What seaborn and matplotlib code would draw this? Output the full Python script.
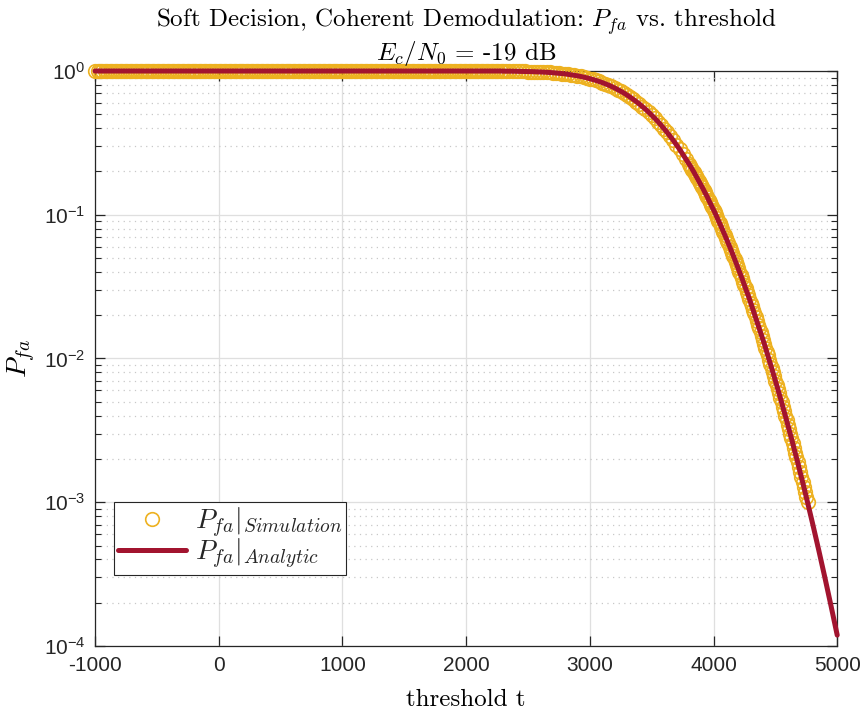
import matplotlib
matplotlib.use("Agg")
import matplotlib.pyplot as plt
from matplotlib.ticker import LogLocator, FixedLocator, NullFormatter
import seaborn as sns

# Thresholds and Pfa where the detector output is essentially always above threshold
flat_t = list(range(-1000, 2300, 20))
flat_pfa = [1.0] * len(flat_t)

# Shoulder of the curve (threshold step 25)
shoulder_t = list(range(2300, 3800, 25))
shoulder_pfa = [0.998, 0.998, 0.997, 0.997, 0.996, 0.995, 0.995, 0.993, 0.992, 0.991,
                0.989, 0.987, 0.985, 0.983, 0.98, 0.977, 0.973, 0.969, 0.965, 0.96,
                0.955, 0.948, 0.942, 0.934, 0.926, 0.917, 0.907, 0.897, 0.885, 0.873,
                0.86, 0.846, 0.831, 0.815, 0.799, 0.781, 0.763, 0.743, 0.723, 0.703,
                0.681, 0.659, 0.636, 0.613, 0.59, 0.566, 0.542, 0.518, 0.493, 0.469,
                0.445, 0.421, 0.397, 0.374, 0.351, 0.329, 0.307, 0.286, 0.265, 0.246]

# Steep tail (threshold step 10)
tail_t = list(range(3800, 4770, 10))
tail_pfa = [0.227, 0.22, 0.213, 0.206, 0.199, 0.192, 0.185, 0.179, 0.173, 0.166,
            0.16, 0.155, 0.149, 0.143, 0.138, 0.133, 0.127, 0.122, 0.117, 0.113,
            0.108, 0.104, 0.0993, 0.0951, 0.0911, 0.0871, 0.0833, 0.0797, 0.0761, 0.0727,
            0.0694, 0.0662, 0.0631, 0.0601, 0.0573, 0.0545, 0.0519, 0.0493, 0.0469, 0.0446,
            0.0423, 0.0402, 0.0381, 0.0361, 0.0342, 0.0324, 0.0307, 0.029, 0.0275, 0.026,
            0.0245, 0.0231, 0.0218, 0.0206, 0.0194, 0.0183, 0.0172, 0.0162, 0.0153, 0.0143,
            0.0135, 0.0127, 0.0119, 0.0111, 0.0105, 0.00979, 0.00917, 0.00859, 0.00804, 0.00751,
            0.00702, 0.00656, 0.00612, 0.00572, 0.00533, 0.00497, 0.00463, 0.00431, 0.00401, 0.00373,
            0.00347, 0.00322, 0.00299, 0.00278, 0.00257, 0.00239, 0.00221, 0.00205, 0.0019, 0.00175,
            0.00162, 0.0015, 0.00138, 0.00128, 0.00118, 0.00109, 0.001]

# Analytic curve continues past the last simulated point
extra_t = [4800, 4850, 4900, 4950, 5000]
extra_pfa = [0.000717, 0.000467, 0.0003, 0.00019, 0.000119]

sim_t = flat_t + shoulder_t + tail_t
sim_pfa = flat_pfa + shoulder_pfa + tail_pfa
ana_t = flat_t + shoulder_t + tail_t + extra_t
ana_pfa = flat_pfa + shoulder_pfa + tail_pfa + extra_pfa

x_ticks = [-1000, 0, 1000, 2000, 3000, 4000, 5000]

SIM_COLOR = "#EDB120"
ANA_COLOR = "#A2142F"
AX_COLOR = "#262626"

sns.set_theme(style="white")
plt.rcParams["font.family"] = ["Liberation Sans", "DejaVu Sans"]
plt.rcParams["mathtext.fontset"] = "cm"
plt.rcParams["axes.unicode_minus"] = False

fig = plt.figure(figsize=(8.64, 7.13), dpi=100)
ax = fig.add_axes([0.110, 0.094, 0.859, 0.8064])

sns.lineplot(x=sim_t, y=sim_pfa, ax=ax, linestyle="none", marker="o",
             markersize=9.8, markerfacecolor="none", markeredgecolor=SIM_COLOR,
             markeredgewidth=1.2, color=SIM_COLOR, clip_on=False, zorder=3,
             label=r"$P_{fa}|_{Simulation}$")
sns.lineplot(x=ana_t, y=ana_pfa, ax=ax, color=ANA_COLOR, linewidth=3.6,
             zorder=4, clip_on=False, label=r"$P_{fa}|_{Analytic}$")

ax.set_yscale("log")
ax.set_xlim(-1000, 5000)
ax.set_ylim(1e-4, 1)
ax.xaxis.set_major_locator(FixedLocator(x_ticks))
ax.yaxis.set_major_locator(LogLocator(base=10, numticks=10))
ax.yaxis.set_minor_locator(LogLocator(base=10, subs=range(2, 10), numticks=20))
ax.yaxis.set_minor_formatter(NullFormatter())

# Grid: solid at major ticks, dotted at the log minor ticks
ax.grid(True, which="major", axis="both", color="#DFDFDF", linewidth=0.9, linestyle="-")
ax.grid(True, which="minor", axis="y", color="#C8C8C8", linewidth=0.9, linestyle=(0, (1, 3.5)))
ax.set_axisbelow(True)

for side in ["left", "right", "top", "bottom"]:
    ax.spines[side].set_visible(True)
    ax.spines[side].set_color(AX_COLOR)
    ax.spines[side].set_linewidth(0.9)

ax.tick_params(axis="both", which="major", direction="in", length=7, width=0.9,
               color=AX_COLOR, labelcolor=AX_COLOR, labelsize=15,
               top=True, right=True, bottom=True, left=True, pad=7)
ax.tick_params(axis="y", which="minor", direction="in", length=4, width=0.8,
               color=AX_COLOR, left=True, right=True)
ax.tick_params(axis="x", which="minor", bottom=False, top=False)

ax.set_title("Soft Decision, Coherent Demodulation: $P_{fa}$ vs. threshold\n"
             "$E_c/N_0$ = -19 dB", fontfamily="cmr10", fontsize=18,
             color="black", pad=8, linespacing=1.1)
ax.set_xlabel("threshold t", fontfamily="cmr10", fontsize=18, color="black", labelpad=10)
ax.set_ylabel("$P_{fa}$", fontsize=20, color="black", labelpad=4)

leg = ax.legend(loc="lower left", bbox_to_anchor=(0.0256, 0.1235), borderaxespad=0,
                fontsize=20, frameon=True, fancybox=False, framealpha=1,
                edgecolor=AX_COLOR, handlelength=2.45, handletextpad=0.3,
                borderpad=0.15, labelspacing=-0.12)
leg.get_frame().set_linewidth(0.8)
leg.set_zorder(10)

fig.savefig("out.png", dpi=100, facecolor="white")
